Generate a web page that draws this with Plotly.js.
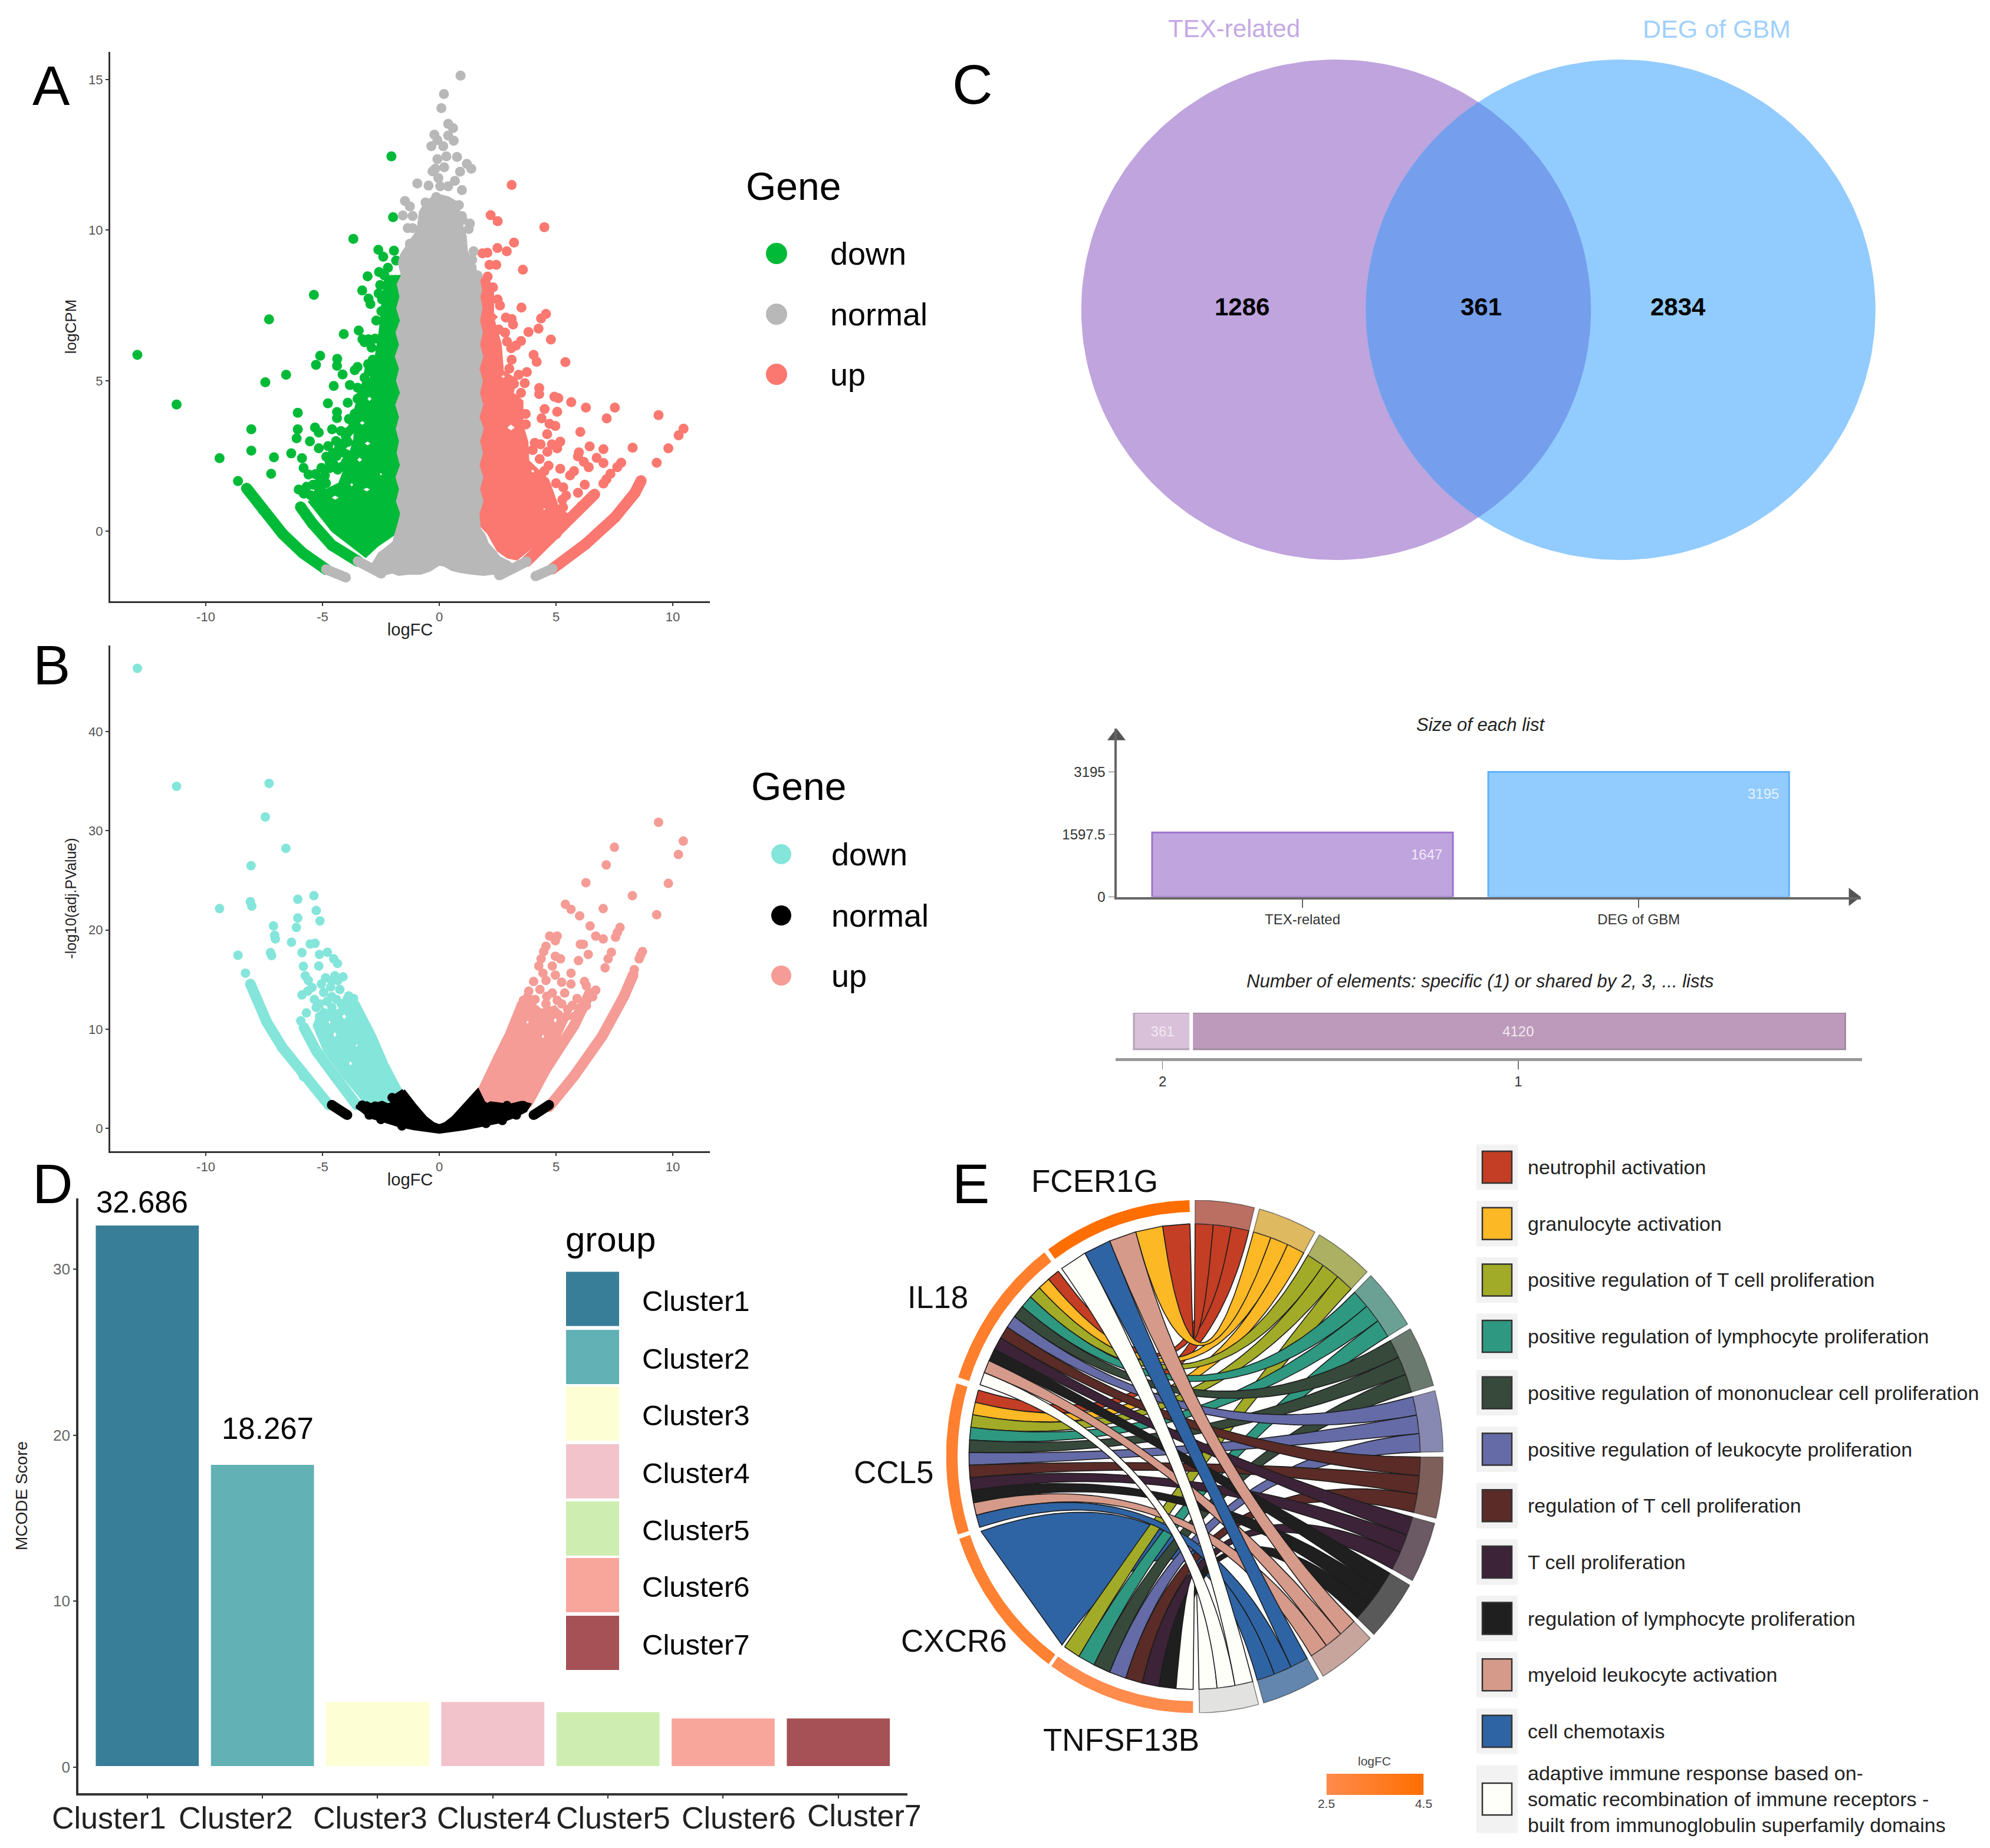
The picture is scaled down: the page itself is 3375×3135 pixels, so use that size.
<!DOCTYPE html>
<html><head><meta charset="utf-8">
<script src="https://cdn.plot.ly/plotly-3.0.1.min.js"></script>
<style>html,body{margin:0;padding:0;background:#fff}</style></head>
<body><div id="chart" style="width:3375px;height:3135px"></div>
<script>
// ---------- PANEL A: logFC / logCPM ----------
const aDownPts=[[-12.93,5.86],[-11.25,4.21],[-9.41,2.43],[-8.62,1.67],[-8.05,3.39],[-8.05,2.68],[-7.45,4.95],[-7.29,7.04],[-7.08,2.46],[-7.2,1.91],[-6.56,5.2],[-6.34,2.59],[-6.06,3.94],[-6.06,3.39],[-6.11,3.09],[-5.88,2.43],[-5.81,2.11],[-5.6,1.89],[-5.54,2.99],[-5.37,7.85],[-5.32,3.45],[-5.28,5.53],[-5.16,3.28],[-5.16,2.76],[-5.1,5.83],[-5.1,1.71],[-5.05,2.11],[-4.84,2.48],[-4.77,4.25],[-4.76,2.83],[-4.59,3.39],[-4.52,4.83],[-4.5,2.2],[-4.42,3.0],[-4.38,5.5],[-4.38,3.96],[-4.38,3.76],[-4.37,5.73],[-4.21,3.33],[-4.14,5.21],[-4.1,2.61],[-4.09,6.55],[-4.0,3.15],[-4.0,2.3],[-3.92,4.27],[-3.92,2.97],[-3.87,3.73],[-3.83,4.86],[-3.68,9.71],[-3.68,3.51],[-3.62,5.35],[-3.5,5.46],[-3.5,4.77],[-3.45,6.67],[-3.41,4.45],[-3.3,8.0],[-3.29,6.38],[-3.2,6.28],[-3.07,8.47],[-3.03,7.73],[-3.03,6.38],[-2.95,7.55],[-2.61,9.35],[-2.58,8.61],[-2.53,8.18],[-2.48,7.31],[-2.4,9.12],[-2.05,12.45],[-1.98,10.43],[-1.94,9.32],[-1.85,8.99],[-2.9,6.1],[-2.85,5.7],[-3.05,5.55],[-3.2,5.1],[-3.0,4.7],[-3.5,4.4],[-3.6,3.9],[-3.9,3.3],[-4.2,2.9],[-4.4,2.5],[-4.7,2.3],[-5.3,1.9],[-5.4,1.55],[-5.8,1.25],[-5.5,1.2],[-2.6,7.9],[-2.45,7.7],[-2.35,8.5],[-2.2,8.75],[-2.7,7.0],[-2.75,6.4],[-6.02,1.39],[-5.68,1.48],[-5.05,1.48],[-3.62,3.91],[-3.75,3.4],[-3.95,3.0],[-4.1,2.9],[-4.3,2.75],[-4.55,2.6],[-4.7,2.1],[-4.35,2.05],[-4.9,1.85],[-5.15,1.4],[-4.85,1.6],[-4.15,2.15],[-3.95,2.55],[-3.85,1.9],[-5.25,1.2],[-4.9,1.05],[-4.65,0.95]];
const aUpPts=[[3.2,9.59],[2.49,9.41],[2.89,9.3],[2.06,9.25],[1.85,9.23],[2.15,8.85],[2.44,8.85],[3.58,8.69],[3.52,7.43],[4.57,7.22],[4.36,7.07],[4.25,6.73],[3.82,6.62],[4.78,6.37],[3.16,6.87],[2.82,6.6],[3.5,6.32],[3.28,6.17],[3.08,6.08],[4.04,5.86],[4.17,5.63],[5.4,5.62],[3.75,5.29],[3.66,4.92],[4.28,4.76],[4.28,4.56],[4.93,4.47],[5.1,4.42],[5.65,4.29],[6.28,4.11],[7.52,4.11],[9.39,3.86],[4.51,4.06],[5.05,3.97],[7.17,3.75],[4.38,3.75],[4.72,3.57],[4.97,3.5],[10.46,3.41],[10.25,3.19],[6.04,3.3],[4.62,3.23],[3.71,3.55],[4.09,2.94],[4.34,2.89],[5.18,2.98],[4.82,2.89],[5.05,2.76],[6.44,2.82],[7.03,2.73],[8.28,2.78],[9.81,2.76],[4.63,2.64],[5.98,2.62],[5.94,2.49],[6.19,2.31],[6.4,2.13],[6.74,2.44],[7.03,2.27],[9.31,2.28],[7.79,2.28],[7.62,2.13],[4.68,2.18],[5.18,2.08],[5.77,2.0],[5.6,1.86],[7.33,1.91],[7.16,1.73],[7.03,1.59],[6.23,1.55],[5.31,1.46],[5.94,1.28],[5.43,1.19],[5.27,1.05],[3.1,11.5],[2.2,10.5],[2.5,10.3],[4.5,10.1],[2.07,8.46],[2.3,8.1],[2.5,7.7],[2.6,7.5],[2.85,7.1],[3.1,7.05],[2.55,6.7],[2.9,6.3],[3.1,5.7],[3.0,5.4],[3.4,5.2],[3.2,4.9],[3.5,4.6],[3.7,3.9],[4.0,2.7],[4.3,2.4],[4.5,2.0],[5.0,1.6],[5.3,0.8]];
const aNormalPts=[[0.91,15.13],[0.2,14.52],[0.09,14.05],[0.38,13.53],[0.59,13.39],[-0.21,13.17],[0.38,13.14],[0.62,12.97],[-0.08,12.99],[-0.34,12.79],[0.17,12.79],[-0.08,12.36],[0.3,12.45],[0.76,12.43],[1.18,12.2],[1.37,12.04],[-0.17,12.04],[-0.29,11.95],[0.21,12.09],[0.89,11.94],[-0.04,11.73],[0.67,11.64],[-0.94,11.55],[-0.46,11.48],[0.04,11.46],[0.97,11.33],[0.38,11.46],[-1.47,10.97],[-1.26,10.79],[-0.59,10.92],[-0.13,11.1],[0.84,10.83],[0.97,10.47],[1.0,10.34],[1.31,10.22],[1.26,10.04],[-1.56,10.49],[-1.14,10.47],[-1.35,10.07],[-1.14,10.07],[-1.26,9.55],[-0.8,9.84],[1.47,9.3],[1.41,9.02],[1.39,8.76],[1.64,8.5],[1.56,8.18]];
// outlines of the solid-looking masses of overplotted points, and the small gaps left in them
const aNormalCore=[[-1.65,9.2],[-1.75,8.9],[-1.62,8.5],[-1.8,8.2],[-1.68,7.8],[-1.82,7.4],[-1.66,7.0],[-1.85,6.6],[-1.7,6.2],[-1.88,5.8],[-1.7,5.4],[-1.83,5.0],[-1.66,4.6],[-1.86,4.2],[-1.7,3.8],[-1.84,3.4],[-1.7,3.0],[-1.8,2.6],[-1.66,2.2],[-1.85,1.8],[-1.7,1.4],[-1.83,1.0],[-1.65,0.6],[-1.78,0.2],[-1.9,-0.1],[-1.98,-0.35],[-2.3,-0.55],[-2.6,-0.72],[-2.85,-1.05],[-3.1,-1.2],[-2.6,-1.45],[-2.4,-1.45],[-2.0,-1.38],[-1.75,-1.46],[-1.3,-1.42],[-0.8,-1.42],[-0.4,-1.32],[0,-1.12],[0.2,-1.15],[0.55,-1.3],[0.9,-1.36],[1.4,-1.42],[1.9,-1.46],[2.3,-1.42],[2.6,-1.47],[3.3,-1.2],[3.0,-1.0],[2.6,-0.85],[2.4,-0.65],[2.1,-0.4],[1.95,-0.1],[1.75,0.1],[1.7,0.6],[1.87,1.0],[1.72,1.4],[1.86,1.8],[1.7,2.2],[1.85,2.6],[1.72,3.0],[1.88,3.4],[1.7,3.8],[1.86,4.2],[1.72,4.6],[1.84,5.0],[1.7,5.4],[1.86,5.8],[1.72,6.2],[1.84,6.6],[1.72,7.0],[1.82,7.4],[1.74,7.8],[1.8,8.0],[1.7,8.5],[1.45,8.9],[1.2,9.3],[1.15,9.8],[0.9,10.4],[0.85,10.9],[0.4,11.1],[-0.1,11.2],[-0.6,10.95],[-0.85,10.6],[-0.95,10],[-1.3,9.6]];
const aDownCore=[[-1.5,8.5],[-2.32,8.49],[-2.49,7.33],[-2.56,6.7],[-2.74,5.8],[-3.16,5.44],[-3.3,4.9],[-3.65,4.0],[-3.65,3.1],[-3.9,2.4],[-4.3,1.6],[-4.7,1.45],[-5.3,1.2],[-5.6,0.98],[-4.59,0.0],[-3.15,-0.86],[-2.65,-0.5],[-1.98,-0.14],[-1.5,0.2]];
const aDownHoles=[[-2.99,4.4,0.12,0.1],[-3.03,5.13,0.1,0.09],[-3.07,2.92,0.16,0.09],[-3.41,2.38,0.14,0.1],[-4.46,1.12,0.2,0.09],[-3.11,1.39,0.2,0.08],[-3.3,3.6,0.14,0.09],[-2.5,1.9,0.08,0.07],[-3.75,1.55,0.1,0.08]];
const aUpCore=[[1.5,8.4],[2.07,8.46],[2.32,8.02],[2.32,7.11],[2.65,6.22],[2.74,5.32],[3.33,5.05],[3.16,4.6],[3.58,4.33],[3.58,3.52],[3.79,2.98],[3.83,2.35],[4.68,1.72],[5.1,0.82],[5.52,0.56],[4.76,0.06],[4.0,-0.52],[3.33,-0.95],[2.91,-0.88],[2.49,-0.65],[2.07,-0.07],[1.5,0.38]];
const aUpHoles=[[2.36,7.12,0.12,0.09],[3.07,3.45,0.2,0.12],[4.0,2.0,0.1,0.08],[4.5,0.74,0.1,0.05],[2.74,5.14,0.12,0.07]];
const aDownOuter=[[-8.25,1.43],[-7.53,0.71],[-6.7,-0.09],[-5.86,-0.71],[-4.85,-1.26]];
const aDownInner=[[-5.94,0.81],[-5.43,0.26],[-4.6,-0.46],[-3.49,-0.99]];
const aUpOuter=[[8.64,1.68],[8.38,1.28],[7.53,0.47],[6.27,-0.42],[4.85,-1.24]];
const aUpInner=[[6.65,1.23],[6.11,0.83],[5.0,-0.07],[3.74,-1.0]];
const aNormalTails=[[[-4.85,-1.26],[-4.0,-1.53]],[[-3.49,-0.99],[-2.48,-1.4]],[[3.74,-1.0],[2.57,-1.46]],[[4.85,-1.24],[4.12,-1.49]]];

// ---------- PANEL B: logFC / -log10(adj.PValue) ----------
const bDownPts=[[-12.93,46.36],[-11.25,34.47],[-7.29,34.76],[-7.45,31.38],[-6.57,28.22],[-8.06,26.47],[-5.37,23.45],[-6.06,23.09],[-8.09,22.84],[-8.03,22.4],[-9.41,22.15],[-5.27,21.96],[-6.06,21.2],[-5.11,20.91],[-7.1,20.4],[-6.12,20.25],[-7.05,19.45],[-7.02,19.09],[-6.33,18.76],[-5.53,18.58],[-5.32,18.65],[-4.79,17.75],[-5.88,17.71],[-5.13,17.53],[-7.23,17.71],[-7.18,17.42],[-8.62,17.45],[-4.52,17.09],[-4.36,16.62],[-5.82,16.33],[-5.16,16.36],[-8.3,15.64],[-4.12,15.27],[-4.47,15.38],[-4.87,15.16],[-5.74,15.38],[-5.61,14.91],[-5.05,14.55],[-4.6,14.9],[-4.65,14.25],[-4.26,14.0],[-5.64,13.82],[-5.88,13.45],[-3.88,13.35],[-3.67,13.09],[-4.6,13.27],[-4.2,12.55],[-5.13,12.55],[-5.27,12.18],[-4.6,12.18],[-3.94,12.0],[-5.69,11.64],[-5.13,11.27],[-5.93,10.84],[-4.9,11.6],[-4.35,11.3],[-3.7,11.4],[-5.35,13.0],[-4.95,13.7],[-4.4,13.0],[-4.8,12.8],[-5.45,14.2],[-4.35,14.9],[-3.95,13.0]];
const bUpPts=[[9.39,30.84],[10.45,28.95],[10.24,27.6],[7.5,28.33],[7.15,26.55],[6.28,24.76],[9.81,24.69],[8.27,23.45],[9.31,21.53],[5.4,22.58],[5.64,22.07],[6.01,21.42],[7.02,22.15],[6.46,20.4],[7.74,20.25],[7.63,19.75],[7.55,19.27],[6.7,19.38],[7.02,19.09],[4.73,19.38],[5.05,19.38],[4.97,18.91],[4.57,18.36],[4.47,17.82],[6.04,18.55],[6.17,18.55],[6.38,17.53],[7.37,17.75],[8.7,17.82],[8.62,17.45],[8.56,17.09],[4.97,17.35],[5.19,17.09],[4.36,17.09],[5.96,16.91],[7.23,17.09],[7.1,16.18],[8.35,16.0],[4.26,16.36],[4.84,16.36],[5.64,15.64],[4.44,15.64],[4.97,15.45],[4.04,14.8],[4.57,14.91],[5.24,14.73],[5.64,14.55],[6.22,14.8],[6.3,14.36],[6.7,13.93],[6.57,13.27],[3.83,13.82],[3.78,13.27],[4.31,14.0],[4.84,13.64],[5.37,13.64],[5.9,13.09],[5.24,12.55],[4.57,12.55],[5.5,12.0],[6.04,12.18],[5.77,11.27],[5.11,11.45],[6.3,12.36],[4.1,13.0],[4.6,13.3],[5.05,12.9],[5.7,12.4],[5.95,11.7],[3.6,12.9],[3.95,12.3],[5.45,11.3]];
const bDownCore=[[-1.6,3.82],[-2.21,6.55],[-2.74,9.45],[-3.14,11.27],[-3.46,12.73],[-3.88,13.45],[-4.2,12.18],[-4.6,11.64],[-5.0,12.18],[-5.27,11.09],[-5.4,10.36],[-4.95,7.82],[-4.15,5.27],[-3.14,2.36],[-1.8,2.0]];
const bDownHoles=[[-3.8,6.55,0.1,0.3],[-4.47,9.45,0.1,0.35],[-4.07,11.27,0.12,0.35],[-3.54,8.36,0.07,0.25],[-4.7,10.7,0.07,0.3]];
const bUpCore=[[1.65,3.82],[2.31,7.09],[2.85,9.64],[3.38,12.73],[3.91,12.91],[4.36,12.0],[4.97,12.36],[5.5,10.91],[5.1,8.9],[4.57,6.36],[4.18,4.55],[3.51,2.36],[2.05,2.36]];
const bUpHoles=[[3.78,10.7,0.08,0.25],[4.44,9.27,0.08,0.3],[4.97,10.9,0.1,0.35]];
const bDownOuter=[[-8.09,14.55],[-7.79,12.91],[-7.39,10.73],[-6.73,8.18],[-5.8,5.27],[-4.73,2.36]];
const bDownInner=[[-5.8,10.18],[-5.27,7.82],[-4.47,5.27],[-3.54,2.36]];
const bUpOuter=[[8.3,15.45],[7.9,13.27],[6.97,9.27],[5.77,5.27],[4.7,2.18]];
const bUpInner=[[6.44,13.6],[5.77,10.36],[4.57,6.0],[3.78,2.55]];
const bNormalCore=[[-1.54,3.82],[-2.02,3.09],[-1.85,2.6],[-2.2,2.35],[-2.45,2.6],[-2.87,2.3],[-3.1,2.55],[-3.54,2.2],[-3.3,1.8],[-3.0,1.2],[-2.4,0.8],[-1.8,0.35],[-1.1,0],[0,-0.36],[1.1,0],[1.8,0.35],[2.6,0.7],[3.2,1.2],[3.7,1.8],[3.85,2.4],[3.51,2.6],[3.0,2.3],[2.6,2.4],[2.2,2.55],[2.05,2.36],[1.9,2.6],[1.65,3.82],[1.0,2.2],[0.6,1.1],[0.25,0.45],[0,0.25],[-0.25,0.45],[-0.6,1.1],[-1.0,2.2]];
const bNormalPts=[[-2.02,3.1],[-1.9,2.7],[-2.75,2.25],[-3.3,2.35],[-2.5,0.9],[-3.0,1.35],[-1.6,0.25],[2.0,0.5],[2.7,0.8],[3.3,1.35],[3.6,2.3],[2.9,2.3]];
const bNormalTails=[[[-4.6,2.36],[-3.94,1.35]],[[4.7,2.36],[4.04,1.35]]];

// ---------- PANEL C: Venn and list sizes ----------
const vennSets=['TEX-related','DEG of GBM'];
const vennCounts=[1286,361,2834];
const listSizes=[1647,3195];
const sizeTicks=[0,1597.5,3195];
const sharedLabels=['2','1'];
const sharedCounts=[361,4120];

// ---------- PANEL D: MCODE scores ----------
const clusters=['Cluster1','Cluster2','Cluster3','Cluster4','Cluster5','Cluster6','Cluster7'];
const mcodeScores=[32.686,18.267,3.97,3.97,3.36,2.98,2.98];
const clusterColors=['#387E98','#62B1B4','#FEFED5','#F3C3CC','#CDEEB0','#F8A69C','#A55155'];

// ---------- PANEL E: GO chord ----------
const genes=['FCER1G','IL18','CCL5','CXCR6','TNFSF13B'];
const geneLogFC=[4.5,3.35,3.25,3.2,2.5];
const terms=['neutrophil activation','granulocyte activation','positive regulation of T cell proliferation','positive regulation of lymphocyte proliferation','positive regulation of mononuclear cell proliferation','positive regulation of leukocyte proliferation','regulation of T cell proliferation','T cell proliferation','regulation of lymphocyte proliferation','myeloid leukocyte activation','cell chemotaxis','adaptive immune response based on-<br>somatic recombination of immune receptors -<br>built from immunoglobulin superfamily domains'];
const termColors=['#C33E24','#FDB825','#A2AB27','#2E9880','#36493B','#646BA7','#5A2B27','#3C2337','#1F1F1F','#D69A8A','#2F64A4','#FFFFFA'];
const ringColors=['#BB6F62','#DFB95F','#ABB063','#6AA194','#6B7A6F','#8889B2','#7F5F5A','#6B5964','#595959','#C8A59C','#6286AE','#E2E2E0'];
const termGenes=[[0,1,2],[0,1,2],[1,2,4],[1,2,4],[1,2,4],[1,2,4],[1,2,4],[1,2,4],[1,2,4],[0,1,2],[0,2,3],[0,1,4]];
const logFCScale=[2.5,3,3.5,4,4.5];

// ---------- layout helpers (pixels -> paper) ----------
const W=3375,H=3135,FONT='Liberation Sans';
const dx=(a,b)=>[a/W,b/W], dy=(top,bot)=>[1-bot/H,1-top/H];
const xs=p=>p.map(q=>q[0]), ys=p=>p.map(q=>q[1]);
const traces=[],shapes=[],annos=[];
function text(t,x,y,size,o={}){annos.push(Object.assign({text:t,x:x/W,y:1-y/H,xref:'paper',yref:'paper',showarrow:false,xanchor:'center',yanchor:'middle',font:{family:FONT,size:size,color:o.color||'#000'}},o.extra||{}));}
function dots(p,c,ax,size){traces.push({type:'scatter',mode:'markers',x:xs(p),y:ys(p),xaxis:ax[0],yaxis:ax[1],marker:{color:c,size:size,line:{width:0}},hoverinfo:'skip',showlegend:false});}
function band(p,c,ax,w){traces.push({type:'scatter',mode:'lines+markers',x:xs(p),y:ys(p),xaxis:ax[0],yaxis:ax[1],line:{color:c,width:w},marker:{color:c,size:w,line:{width:0}},hoverinfo:'skip',showlegend:false});}
const area=p=>p.reduce((s,q,i)=>{const r=p[(i+1)%p.length];return s+q[0]*r[1]-r[0]*q[1];},0);
function core(p,c,ax,holes,lw){
  let X=xs(p).concat(p[0][0]),Y=ys(p).concat(p[0][1]);
  (holes||[]).forEach(h=>{let q=[[h[0]-h[2],h[1]],[h[0],h[1]-h[3]],[h[0]+h[2],h[1]],[h[0],h[1]+h[3]]];
    if(area(q)*area(p)>0)q=q.reverse();
    X=X.concat([null],xs(q),q[0][0]);Y=Y.concat([null],ys(q),q[0][1]);});
  traces.push({type:'scatter',mode:'lines',fill:'toself',fillcolor:c,x:X,y:Y,xaxis:ax[0],yaxis:ax[1],connectgaps:false,line:{color:c,width:lw===undefined?2:lw},hoverinfo:'skip',showlegend:false});}
function pxRect(x0,y0,x1,y1,fill,line,lw){shapes.push({type:'rect',xref:'paper',yref:'paper',x0:x0/W,x1:x1/W,y0:1-y0/H,y1:1-y1/H,fillcolor:fill,line:{color:line||fill,width:lw||0},layer:'above'});}
function pxDot(cx,cy,d,fill){shapes.push({type:'circle',xref:'paper',yref:'paper',x0:(cx-d/2)/W,x1:(cx+d/2)/W,y0:1-(cy-d/2)/H,y1:1-(cy+d/2)/H,fillcolor:fill,line:{width:0},layer:'above'});}
const hidden=(d,r,anchor)=>({domain:d,range:r,visible:false,fixedrange:true,anchor:anchor});
const layout={width:W,height:H,margin:{l:0,r:0,t:0,b:0},paper_bgcolor:'#fff',plot_bgcolor:'rgba(0,0,0,0)',showlegend:false,font:{family:FONT},hovermode:false};

function volcanoAxes(xn,yn,top,bot,yr,yticks,ytitle,ytitleSize){
  const base={showgrid:false,zeroline:false,showline:true,linecolor:'#333',linewidth:3,ticks:'outside',ticklen:5,tickwidth:2,tickcolor:'#333',tickfont:{size:22,color:'#555',family:FONT},fixedrange:true};
  layout[xn]=Object.assign({},base,{domain:dx(187,1204),range:[-14.09,11.59],tickvals:[-10,-5,0,5,10],ticktext:['-10','-5','0','5','10'],anchor:yn.replace('axis',''),title:{text:'logFC',font:{size:29,color:'#222',family:FONT},standoff:0}});
  layout[yn]=Object.assign({},base,{domain:dy(top,bot),range:yr,tickvals:yticks,ticktext:yticks.map(String),anchor:xn.replace('axis',''),title:{text:ytitle,font:{size:ytitleSize,color:'#222',family:FONT},standoff:14}});
}

// ---------- A ----------
volcanoAxes('xaxis','yaxis',88,1020,[-2.32,15.92],[0,5,10,15],'logCPM',26);
const axA=['x','y'];
core(aDownCore,'#00BA38',axA,aDownHoles); core(aUpCore,'#FA7870',axA,aUpHoles);
dots(aDownPts,'#00BA38',axA,17); dots(aUpPts,'#FA7870',axA,17);
band(aDownOuter,'#00BA38',axA,19); band(aDownInner,'#00BA38',axA,19); band(aUpOuter,'#FA7870',axA,19); band(aUpInner,'#FA7870',axA,19);
aNormalTails.forEach(t=>band(t,'#B8B8B8',axA,17));
dots(aNormalPts,'#B8B8B8',axA,17); core(aNormalCore,'#B8B8B8',axA);

// ---------- B ----------
volcanoAxes('xaxis2','yaxis2',1095,1953,[-2.3,48.66],[0,10,20,30,40],'-log10(adj.PValue)',25);
const axB=['x2','y2'];
core(bDownCore,'#84E5DA',axB,bDownHoles); core(bUpCore,'#F49C95',axB,bUpHoles);
dots(bDownPts,'#84E5DA',axB,16); dots(bUpPts,'#F49C95',axB,16);
band(bDownOuter,'#84E5DA',axB,18); band(bDownInner,'#84E5DA',axB,18); band(bUpOuter,'#F49C95',axB,18); band(bUpInner,'#F49C95',axB,18);
core(bNormalCore,'#000',axB,[],6); dots(bNormalPts,'#000',axB,16);
bNormalTails.forEach(t=>band(t,'#000',axB,17));

// legends A, B
text('Gene',1345,316,66);
[['down','#00BA38',430],['normal','#B8B8B8',533],['up','#FA7870',635]].forEach(r=>{pxDot(1317,r[2],36,r[1]);text(r[0],1406,r[2],54,{extra:{xanchor:'left'}});});
text('Gene',1354,1334,66);
[['down','#84E5DA',1449],['normal','#000',1553],['up','#F49C95',1655]].forEach(r=>{pxDot(1325,r[2],34,r[1]);text(r[0],1408,r[2],54,{extra:{xanchor:'left'}});});

// ---------- C: Venn ----------
layout.xaxis3=hidden(dx(1834,3181),[0,1347],'y3');
layout.yaxis3=hidden(dy(101,950),[849,0],'x3');
const vennC=[432,914.5], vennRx=432.3, vennRy=424.5;
function ellipse(cx,a0,a1,n){const o=[];for(let i=0;i<=n;i++){const a=a0+(a1-a0)*i/n;o.push([cx+vennRx*Math.cos(a),vennRy+vennRy*Math.sin(a)]);}return o;}
const vennLensA=Math.acos((vennC[1]-vennC[0])/(2*vennRx));
const vennLens=ellipse(vennC[0],-vennLensA,vennLensA,80).concat(ellipse(vennC[1],Math.PI-vennLensA,Math.PI+vennLensA,80));
const axC=['x3','y3'];
core(ellipse(vennC[0],0,2*Math.PI,180),'#BFA4DE',axC,[],0);
core(ellipse(vennC[1],0,2*Math.PI,180),'#92CBFE',axC,[],0);
core(vennLens,'#759FEC',axC,[],0);
text(vennSets[0],2093,49,42,{color:'#C4A9E4'}); text(vennSets[1],2911,49,43,{color:'#A0D0FD'});
text('<b>'+vennCounts[0]+'</b>',2106,520,42); text('<b>'+vennCounts[1]+'</b>',2512,520,42); text('<b>'+vennCounts[2]+'</b>',2846,520,42);

// ---------- C: size of each list ----------
const axisGray='#666';
layout.xaxis4={domain:dx(1893.5,3156),range:[-0.5535,1.661],tickvals:[0,1],ticktext:vennSets,showgrid:false,zeroline:false,showline:true,linecolor:axisGray,linewidth:4,ticks:'outside',ticklen:14,tickwidth:1.5,tickcolor:axisGray,tickfont:{size:24,color:'#333',family:FONT},anchor:'y4',fixedrange:true};
layout.yaxis4={domain:dy(1236,1521.5),range:[0,4303],tickvals:sizeTicks,ticktext:sizeTicks.map(String),showgrid:false,zeroline:false,showline:true,linecolor:axisGray,linewidth:4,ticks:'outside',ticklen:10,tickwidth:1.5,tickcolor:axisGray,tickfont:{size:24,color:'#333',family:FONT},anchor:'x4',fixedrange:true};
traces.push({type:'bar',x:[0,1],y:listSizes,xaxis:'x4',yaxis:'y4',width:0.895,marker:{color:['#BFA4DE','#92CBFE'],line:{color:['#9E73CE','#5FB2FC'],width:3}},hoverinfo:'skip',showlegend:false});
traces.push({type:'scatter',mode:'markers',x:[-0.5535],y:[4107],xaxis:'x4',yaxis:'y4',cliponaxis:false,marker:{symbol:'triangle-up',size:27,color:'#555'},hoverinfo:'skip',showlegend:false});
traces.push({type:'scatter',mode:'markers',x:[1.637],y:[0],xaxis:'x4',yaxis:'y4',cliponaxis:false,marker:{symbol:'triangle-right',size:27,color:'#555'},hoverinfo:'skip',showlegend:false});
text(String(listSizes[0]),2448,1449,24,{color:'#F1E9F8',extra:{xanchor:'right'}});
text(String(listSizes[1]),3019,1346,24,{color:'#E6F3FF',extra:{xanchor:'right'}});
text('<i>Size of each list</i>',2510.5,1229,31,{color:'#222'});

// ---------- C: shared elements ----------
const sharedTotal=sharedCounts[0]+sharedCounts[1], pxPerCount=1206.5/sharedTotal;
layout.xaxis5={domain:dx(1891.6,3158),range:[-31.4/pxPerCount,sharedTotal+28.5/pxPerCount],tickvals:[sharedCounts[0]/2,sharedCounts[0]+sharedCounts[1]/2],ticktext:sharedLabels,showgrid:false,zeroline:false,showline:true,linecolor:'#999',linewidth:5,ticks:'outside',ticklen:14,tickwidth:1.5,tickcolor:'#777',tickfont:{size:24,color:'#333',family:FONT},anchor:'y5',fixedrange:true};
layout.yaxis5=hidden(dy(1718,1795),[-0.74,0.5],'x5');
traces.push({type:'bar',orientation:'h',y:[0,0],x:sharedCounts,base:[0,sharedCounts[0]],width:1,xaxis:'x5',yaxis:'y5',marker:{color:['#D9C1DA','#BD9ABB'],line:{color:['#B3A3B3','#A08C9F'],width:3}},text:sharedCounts.map(String),textposition:'inside',insidetextanchor:'middle',textangle:0,textfont:{size:24,color:'#F2E9F2',family:FONT},hoverinfo:'skip',showlegend:false});
shapes.push({type:'line',xref:'x5',yref:'y5',x0:sharedCounts[0],x1:sharedCounts[0],y0:-0.55,y1:0.55,line:{color:'#fff',width:6},layer:'above'});
text('<i>Number of elements: specific (1) or shared by 2, 3, ... lists</i>',2510,1664,31,{color:'#222'});

// ---------- D ----------
layout.xaxis6={domain:dx(132.6,1539),range:[-0.6,6.6],type:'linear',tickvals:[0,1,2,3,4,5,6],showticklabels:false,showgrid:false,zeroline:false,showline:true,linecolor:'#333',linewidth:3.5,ticks:'outside',ticklen:5,tickwidth:2,tickcolor:'#333',anchor:'y6',fixedrange:true};
layout.yaxis6={domain:dy(2033,3042),range:[-1.58,34.27],tickvals:[0,10,20,30],ticktext:['0','10','20','30'],showgrid:false,zeroline:false,showline:true,linecolor:'#333',linewidth:3.5,ticks:'outside',ticklen:5,tickwidth:2,tickcolor:'#333',tickfont:{size:26,color:'#666',family:FONT},anchor:'x6',fixedrange:true,title:{text:'MCODE Score',font:{size:28,color:'#222',family:FONT},standoff:36}};
traces.push({type:'bar',x:[0,1,2,3,4,5,6],y:mcodeScores,xaxis:'x6',yaxis:'y6',width:0.91,marker:{color:clusterColors,line:{color:'#fff',width:3}},hoverinfo:'skip',showlegend:false});
[185,400,628,838,1040,1253,1466].forEach((x,i)=>text(clusters[i],x,3084-(i===6?4:0),52,{color:'#222'}));
text(String(mcodeScores[0]),241,2039,51); text(String(mcodeScores[1]),454,2423,51);
text('group',1035,2102,60);
[2203.6,2302,2398,2496,2593,2689,2787].forEach((y,i)=>{pxRect(960,y-46,1050,y+46,clusterColors[i]);text(clusters[i],1087,y+3,49,{extra:{xanchor:'left'}});});

// ---------- E: chord ----------
layout.xaxis7=hidden(dx(1604.6,2447.8),[-1,1],'y7');
layout.yaxis7=hidden(dy(2036,2906),[-1,1],'x7');
const rad=Math.PI/180, rOuter=1, rInner=0.908, rGene=0.954;
const at=(r,deg)=>[r*Math.sin(deg*rad),r*Math.cos(deg*rad)];
const hex=c=>[1,3,5].map(i=>parseInt(c.slice(i,i+2),16));
const geneSpan=[[-1.2,-36.1],[-37.2,-72],[-73.4,-107.7],[-108.7,-144],[-144.8,-179.6]];
const termSpan=terms.map((t,i)=>[i*15+0.1,i*15+13.9]);
function ring(a0,a1,r0,r1,fill,lineCol){const p=[];const n=30;for(let i=0;i<=n;i++)p.push(at(r1,a0+(a1-a0)*i/n));for(let i=n;i>=0;i--)p.push(at(r0,a0+(a1-a0)*i/n));
 traces.push({type:'scatter',mode:'lines',fill:'toself',fillcolor:fill,x:xs(p).concat(p[0][0]),y:ys(p).concat(p[0][1]),xaxis:'x7',yaxis:'y7',line:{color:lineCol,width:lineCol==='rgba(0,0,0,0)'?0:1.5},hoverinfo:'skip',showlegend:false});}
const quad=(a,b,n)=>{const o=[];for(let i=0;i<=n;i++){const t=i/n,u=1-t;o.push([u*u*a[0]+t*t*b[0],u*u*a[1]+t*t*b[1]]);}return o;};
// slice of each gene and each term taken by a link
const geneLinks=genes.map((g,gi)=>{const l=[];termGenes.forEach((tg,ti)=>{if(tg.includes(gi))l.push(ti);});return l;});
function link(gi,ti){const gl=geneLinks[gi],gp=gl.indexOf(ti),gs=geneSpan[gi],gw=(gs[1]-gs[0])/gl.length;
 const g1=gs[0]+gw*gp,g2=g1+gw;
 const tp=termGenes[ti].indexOf(gi),ts=termSpan[ti],tw=(ts[1]-ts[0])/3;
 const t1=ts[0]+tw*tp,t2=t1+tw;
 const a=at(rInner,g1),b=at(rInner,g2),c=at(rInner,t2),d=at(rInner,t1);
 const e1=quad(b,c,50),e2=quad(d,a,50);
 traces.push({type:'scatter',mode:'lines',fill:'toself',fillcolor:termColors[ti],x:[a[0]].concat(xs(e1),xs(e2)),y:[a[1]].concat(ys(e1),ys(e2)),xaxis:'x7',yaxis:'y7',line:{color:'#1c1c1c',width:1.6},hoverinfo:'skip',showlegend:false});}
[3,4,2,1,0].forEach(g=>geneLinks[g].forEach(t=>link(g,t)));
terms.forEach((t,i)=>ring(termSpan[i][0],termSpan[i][1],rInner,rOuter,ringColors[i],'rgba(50,50,50,0.6)'));
const lowC=hex('#FF8B4D'),highC=hex('#FF6E00');
const fcColor=v=>{const t=(v-2.5)/2;return 'rgb('+lowC.map((c,i)=>Math.round(c+(highC[i]-c)*t))+')';};
genes.forEach((g,i)=>ring(geneSpan[i][0],geneSpan[i][1],rGene,rOuter,fcColor(geneLogFC[i]),'rgba(0,0,0,0)'));
[[1856,2003],[1590,2200],[1516,2497],[1618,2783],[1901,2951]].forEach((p,i)=>text(genes[i],p[0],p[1],53,{color:'#111'}));

// E legend
terms.forEach((t,i)=>{const y=i<11?1980+95.7*i:3052,h=i<11?77:115;
 pxRect(2504,y-h/2,2574,y+h/2,'#F2F2F2');
 pxRect(2514,y-27,2564,y+27,termColors[i],'#333',2.5);
 text(t,2589,y,34,{color:'#222',extra:{xanchor:'left',align:'left'}});});
// logFC colour scale
layout.xaxis8={domain:dx(2249.5,2414.5),range:[2.5,4.5],tickvals:[2.5,4.5],ticktext:['2.5','4.5'],showgrid:false,zeroline:false,showline:false,ticks:'',tickfont:{size:21,color:'#444',family:FONT},anchor:'y8',fixedrange:true};
layout.yaxis8=hidden(dy(3009,3045),[0,1],'x8');
traces.push({type:'heatmap',x:logFCScale,y:[0,1],z:[logFCScale,logFCScale],xaxis:'x8',yaxis:'y8',zsmooth:'best',zmin:2.5,zmax:4.5,colorscale:[[0,'#FF8B4D'],[1,'#FF6E00']],showscale:false,hoverinfo:'skip'});
text('logFC',2331,2987,21,{color:'#444'});

// panel letters
[['A',87,145],['B',87,1128],['C',1649,143],['D',89,2008],['E',1646,2008]].forEach(l=>text(l[0],l[1],l[2],95));

layout.shapes=shapes; layout.annotations=annos;
Plotly.newPlot('chart',traces,layout,{staticPlot:true,displayModeBar:false});
</script></body></html>
